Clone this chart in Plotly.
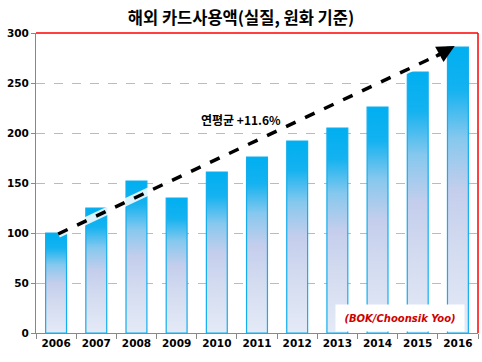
import plotly.graph_objects as go

years = ["2006", "2007", "2008", "2009", "2010", "2011", "2012", "2013", "2014", "2015", "2016"]
values = [100, 125, 152, 135, 161, 176, 192, 205, 226, 261, 286]
y_ticks = [0, 50, 100, 150, 200, 250, 300]
title_text = "해외 카드사용액(실질, 원화 기준)"
trend_label = "연평균 +11.6%"
source_label = "(BOK/Choonsik Yoo)"

num_font = "DejaVu Sans"
kr_font = "Noto Sans CJK KR"
half_w = 0.26

fig = go.Figure()

grad = [[0.0, "#E4EAF6"], [0.3, "#D3DBF0"], [0.5, "#C4CEEC"], [0.68, "#86C8EE"],
        [0.85, "#14B2F0"], [1.0, "#00AFF0"]]
for i, v in enumerate(values):
    fig.add_trace(go.Scatter(
        x=[i - half_w, i - half_w, i + half_w, i + half_w, i - half_w],
        y=[0, v, v, 0, 0],
        mode="lines",
        fill="toself",
        fillgradient=dict(type="vertical", colorscale=grad),
        line=dict(color="#12AEEE", width=1.2),
        hoverinfo="skip",
        showlegend=False,
    ))

# trend arrow (from first to last year)
x0, y0 = 0.05, values[0] - 1
x1, y1 = len(values) - 1 - 0.08, values[-1] + 1
fig.add_shape(type="line", x0=x0, y0=y0, x1=x1 - 0.2, y1=y1 - 5,
              line=dict(color="rgba(255,255,255,0.85)", width=8), layer="above")
fig.add_shape(type="line", x0=x0, y0=y0, x1=x1 - 0.2, y1=y1 - 5,
              line=dict(color="black", width=3.5, dash="dash"), layer="above")
fig.add_annotation(x=x1, y=y1, ax=x1 - 0.5, ay=y1 - 11, xref="x", yref="y",
                   axref="x", ayref="y", text="", showarrow=True,
                   arrowhead=2, arrowsize=1, arrowwidth=3.5, arrowcolor="black")

fig.add_annotation(x=4.6, y=214, xref="x", yref="y", text=trend_label,
                   showarrow=False, font=dict(family=kr_font, size=12, color="black", weight="bold"))

fig.add_annotation(x=0.824, y=0.05, xref="paper", yref="paper", xanchor="center", yanchor="middle",
                   text="<i>" + source_label + "</i>",
                   showarrow=False, bgcolor="white", borderpad=5, width=118, height=16,
                   font=dict(family="DejaVu Sans", size=10, color="#D00000", weight="bold"))

# red top and right borders
fig.add_shape(type="line", xref="paper", yref="paper", x0=0, x1=1, y0=1, y1=1,
              line=dict(color="red", width=1.5), layer="above")
fig.add_shape(type="line", xref="paper", yref="paper", x0=1, x1=1, y0=0, y1=1,
              line=dict(color="red", width=1.5), layer="above")

fig.update_layout(
    width=482, height=362,
    margin=dict(l=36, r=4, t=33, b=29),
    paper_bgcolor="white", plot_bgcolor="white",
    title=dict(text=title_text, x=0.5, xanchor="center", y=0.95, yanchor="middle",
               font=dict(family=kr_font, size=16.5, color="black", weight="bold")),
    xaxis=dict(range=[-0.5, len(years) - 0.5], tickmode="array",
               tickvals=list(range(len(years))), ticktext=years, ticks="",
               showgrid=False, zeroline=False, showline=True, linecolor="#888888", linewidth=1,
               tickfont=dict(family=num_font, size=10.5, color="black", weight="bold"),
               minor=dict(tickmode="array", tickvals=[i - 0.5 for i in range(len(years) + 1)],
                          ticks="outside", ticklen=5, tickcolor="#888888", showgrid=False)),
    yaxis=dict(range=[0, 300], tickmode="array", tickvals=y_ticks, ticks="outside",
               ticklen=4, tickcolor="#888888", showline=True, linecolor="#888888", linewidth=1,
               showgrid=True, gridcolor="#BBBBBB", griddash="dash", gridwidth=1, zeroline=False,
               tickfont=dict(family=num_font, size=10.5, color="black", weight="bold")),
)

fig.write_html("out.html", config={"displayModeBar": False},
               post_script="document.body.style.margin='0';document.body.style.overflow='hidden';")
